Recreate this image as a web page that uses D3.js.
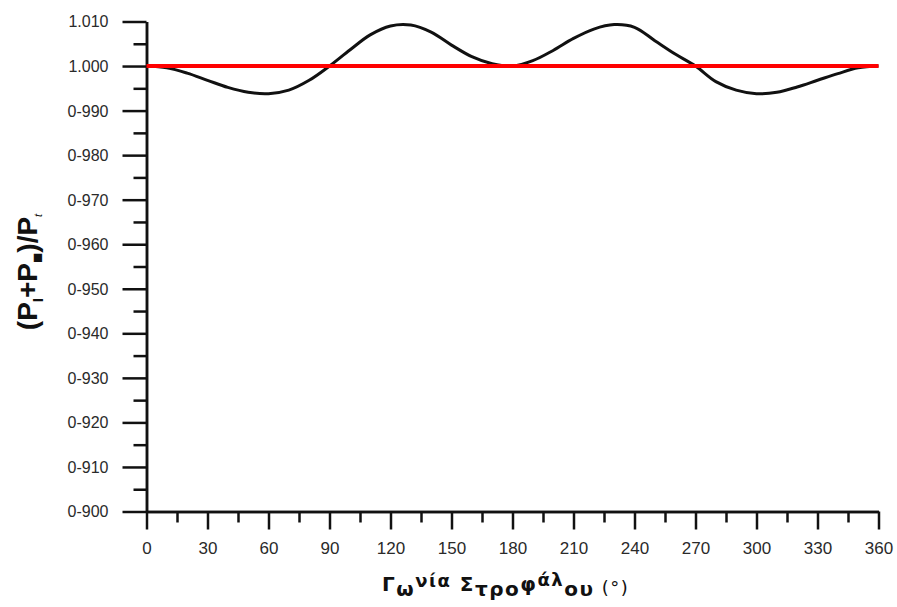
<!DOCTYPE html>
<html>
<head>
<meta charset="utf-8">
<script src="https://cdn.jsdelivr.net/npm/d3@7"></script>
<style>
  body { margin: 0; background: #fff; }
  svg { display: block; }
</style>
</head>
<body>
<div id="chart"></div>
<script>
// crank angle (deg) and power ratio
const angles = [0, 10, 20, 30, 40, 50, 60, 70, 80, 90, 100, 110, 120, 130, 140, 150, 160, 170, 180,
  190, 200, 210, 220, 230, 240, 250, 260, 270, 280, 290, 300, 310, 320, 330, 340, 350, 360];
const ratio = [1.0000, 0.9996, 0.9984, 0.9968, 0.9952, 0.9941, 0.9938, 0.9946, 0.9968, 1.0000,
  1.0036, 1.0070, 1.0090, 1.0092, 1.0076, 1.0047, 1.0021, 1.0005, 1.0000,
  1.0012, 1.0035, 1.0062, 1.0083, 1.0093, 1.0087, 1.0057, 1.0027, 1.0000,
  0.9965, 0.9946, 0.9938, 0.9941, 0.9953, 0.9968, 0.9983, 0.9996, 1.0000];

// reference line
const refAngles = [0, 360];
const refRatio = [1.000, 1.000];

const xTicks = [0, 30, 60, 90, 120, 150, 180, 210, 240, 270, 300, 330, 360];
const xMinor = [15, 45, 75, 105, 135, 165, 195, 225, 255, 285, 315, 345];
const yTicks = [1.010, 1.000, 0.990, 0.980, 0.970, 0.960, 0.950, 0.940, 0.930, 0.920, 0.910, 0.900];
const yTickLabels = ["1.010", "1.000", "0-990", "0-980", "0-970", "0-960", "0-950", "0-940", "0-930", "0-920", "0-910", "0-900"];
const yMinor = [1.005, 0.995, 0.985, 0.975, 0.965, 0.955, 0.945, 0.935, 0.925, 0.915, 0.905];

const W = 897, H = 607;
const font = "'Liberation Sans', Arial, sans-serif";
const wide = "'DejaVu Sans', Verdana, sans-serif";

const svg = d3.select("#chart").append("svg")
  .attr("width", W).attr("height", H);

const x = d3.scaleLinear().domain([0, 360]).range([146.5, 878.5]);
const y = d3.scaleLinear().domain([0.900, 1.010]).range([511.5, 21.5]);

function styleAxis(g) {
  g.selectAll("path.domain").attr("stroke", "#111").attr("stroke-width", 2.5);
  g.selectAll(".tick line").attr("stroke", "#111").attr("stroke-width", 2.5);
  g.selectAll(".tick text").attr("fill", "#2a2a2a").style("font-family", font);
}

// minor ticks first
svg.append("g")
  .attr("transform", `translate(${x(0)},0)`)
  .call(d3.axisLeft(y).tickValues(yMinor).tickSize(13).tickSizeOuter(0).tickFormat(""))
  .call(styleAxis);

svg.append("g")
  .attr("transform", `translate(0,${y(0.9)})`)
  .call(d3.axisBottom(x).tickValues(xMinor).tickSize(11).tickSizeOuter(0).tickFormat(""))
  .call(styleAxis);

// major y axis
svg.append("g")
  .attr("transform", `translate(${x(0)},0)`)
  .call(d3.axisLeft(y).tickValues(yTicks).tickSize(24).tickSizeOuter(0).tickPadding(14)
    .tickFormat((d, i) => yTickLabels[i]))
  .call(styleAxis)
  .call(g => g.selectAll(".tick text").style("font-size", "16px").attr("dy", "0.34em"));

// major x axis
svg.append("g")
  .attr("transform", `translate(0,${y(0.9)})`)
  .call(d3.axisBottom(x).tickValues(xTicks).tickSize(18).tickSizeOuter(0).tickPadding(12))
  .call(styleAxis)
  .call(g => g.selectAll(".tick text").style("font-size", "17px"));

// curve
const line = d3.line()
  .x((d, i) => x(angles[i]))
  .y(d => y(d))
  .curve(d3.curveCatmullRom.alpha(0.5));

svg.append("path")
  .datum(ratio)
  .attr("d", line)
  .attr("fill", "none")
  .attr("stroke", "#111")
  .attr("stroke-width", 3);

const refLine = d3.line()
  .x((d, i) => x(refAngles[i]))
  .y(d => y(d));

svg.append("path")
  .datum(refRatio)
  .attr("d", refLine)
  .attr("fill", "none")
  .attr("stroke", "#ff0000")
  .attr("stroke-width", 4);

// x title, with the odd baseline jumps of the original
const xt = svg.append("text")
  .attr("x", 382).attr("y", 591)
  .style("font-family", wide).style("font-weight", "bold").style("font-size", "20px")
  .style("letter-spacing", "1.5px")
  .attr("fill", "#111");
xt.append("tspan").text("Γ");
xt.append("tspan").attr("dy", 5).text("ω");
xt.append("tspan").attr("dy", -9).style("font-size", "18px").text("νία");
xt.append("tspan").attr("dy", 4).text(" Σ");
xt.append("tspan").attr("dy", 5).text("τρο");
xt.append("tspan").attr("dy", -5).text("φ");
xt.append("tspan").attr("dy", -5).style("font-size", "18px").text("άλ");
xt.append("tspan").attr("dy", 10).text("ου");
xt.append("tspan").attr("dy", -2).style("font-weight", "normal").style("font-size", "18px").text(" (°)");

// y title
const yt = svg.append("text")
  .attr("transform", "translate(37,272) rotate(-90)")
  .attr("text-anchor", "middle")
  .style("font-family", font).style("font-weight", "bold").style("font-size", "28px")
  .attr("fill", "#111");
yt.append("tspan").text("(P");
yt.append("tspan").attr("dy", 6).style("font-size", "15px").text("I");
yt.append("tspan").attr("dy", -6).text("+P");
yt.append("tspan").attr("dy", 6).style("font-size", "17px").text("■");
yt.append("tspan").attr("dy", -6).text(")/P");
yt.append("tspan").attr("dy", 5).style("font-size", "11px").style("font-weight", "normal").style("font-style", "italic").text("t");
</script>
</body>
</html>
